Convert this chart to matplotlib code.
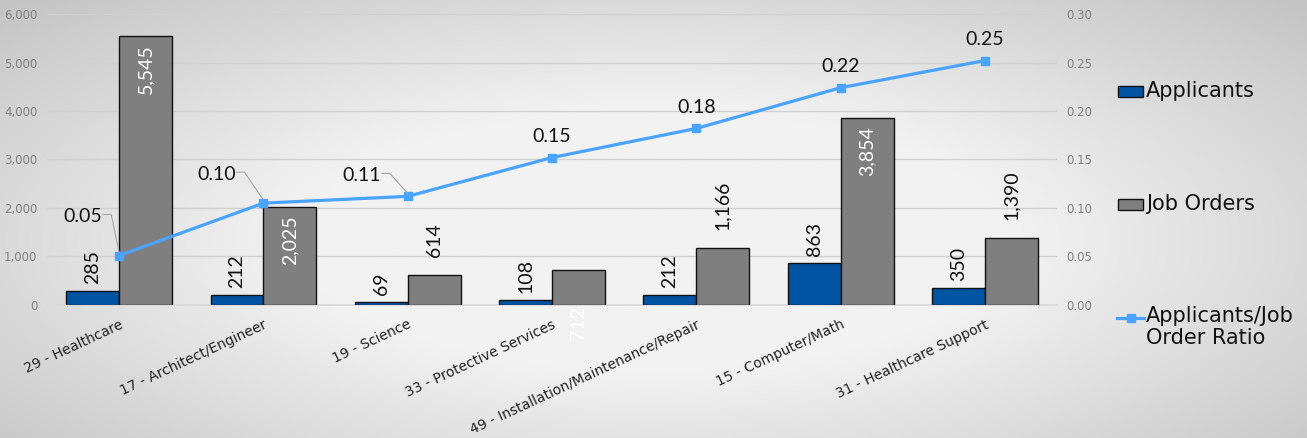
import numpy as np
import matplotlib.pyplot as plt
from matplotlib.patches import Rectangle
from matplotlib.lines import Line2D

categories = ['29 - Healthcare', '17 - Architect/Engineer', '19 - Science',
              '33 - Protective Services', '49 - Installation/Maintenance/Repair',
              '15 - Computer/Math', '31 - Healthcare Support']
applicants = [285, 212, 69, 108, 212, 863, 350]
job_orders = [5545, 2025, 614, 712, 1166, 3854, 1390]
ratio = [0.051, 0.105, 0.112, 0.152, 0.182, 0.224, 0.252]
ratio_labels = ['0.05', '0.10', '0.11', '0.15', '0.18', '0.22', '0.25']

BLUE = '#0254a3'
GREY = '#7f7f7f'
LINE = '#4aa3ff'
LABEL_FONT = ['Lato', 'DejaVu Sans']

plt.rcParams['font.family'] = ['DejaVu Sans']

W, H = 1307, 438
fig = plt.figure(figsize=(W / 100, H / 100), dpi=100)


def fx(px):
    return px / W


def fy(py):
    return 1 - py / H


# background gradient
bg = fig.add_axes([0, 0, 1, 1], zorder=-10)
gx, gy = np.meshgrid(np.linspace(0, 1, 400), np.linspace(0, 1, 200))
d = np.sqrt(((gx - 0.5) / 0.5) ** 2 + ((gy - 0.45) / 0.55) ** 2)
t = np.clip((d - 0.55) / 0.85, 0, 1)
v = (0xf2 - (0xf2 - 0xc4) * t) / 255.0
bg.imshow(np.dstack([v, v, v]), extent=[0, 1, 0, 1], aspect='auto', origin='lower')
bg.axis('off')

ax = fig.add_axes([0.036, 0.3037, 0.7727, 0.6643])
ax.patch.set_alpha(0)
x = np.arange(len(categories))
w = 0.367
ax.bar(x - w / 2, applicants, w, color=BLUE, edgecolor='#111111', linewidth=1, zorder=3)
ax.bar(x + w / 2, job_orders, w, color=GREY, edgecolor='#111111', linewidth=1, zorder=3)
ax.set_xlim(-0.5, len(categories) - 0.5)
ax.set_ylim(0, 6000)
ax.set_yticks(range(0, 6001, 1000))
ax.set_yticklabels([f'{v:,}' for v in range(0, 6001, 1000)])
ax.grid(axis='y', color='#d0d0d0', linewidth=1, zorder=0)
for s in ['top', 'right', 'left']:
    ax.spines[s].set_visible(False)
ax.spines['bottom'].set_color('#d9d9d9')
ax.spines['bottom'].set_linewidth(1.2)
ax.tick_params(axis='y', length=0, labelsize=8.5, labelcolor='#808080', pad=7)
ax.tick_params(axis='x', length=0, pad=9)
ax.set_xticks(x)
ax.set_xticklabels(categories, rotation=25, ha='right', rotation_mode='anchor',
                   fontsize=10, color='#222222')

# applicant labels
for xi, val in zip(x, applicants):
    ax.annotate(f'{val:,}', (xi - w / 2, val), xytext=(0, 5), textcoords='offset points',
                rotation=90, ha='center', va='bottom', fontsize=14, color='#111111',
                family=LABEL_FONT)

# job order labels
inside = {0, 1, 5}
for i, (xi, val) in enumerate(zip(x, job_orders)):
    if i in inside:
        ax.annotate(f'{val:,}', (xi + w / 2, val), xytext=(0, -6), textcoords='offset points',
                    rotation=90, ha='center', va='top', fontsize=14, color='white',
                    family=LABEL_FONT)
    elif i == 3:
        ax.annotate(f'{val:,}', (xi + w / 2, 0), xytext=(0, -1), textcoords='offset points',
                    rotation=90, ha='center', va='top', fontsize=14, color='white',
                    annotation_clip=False, family=LABEL_FONT)
    else:
        ax.annotate(f'{val:,}', (xi + w / 2, val), xytext=(0, 13), textcoords='offset points',
                    rotation=90, ha='center', va='bottom', fontsize=14, color='#111111',
                    family=LABEL_FONT)

ax2 = ax.twinx()
ax2.set_ylim(0, 0.3)
ax2.set_yticks(np.arange(0, 0.301, 0.05))
ax2.set_yticklabels([f'{v:.2f}' for v in np.arange(0, 0.301, 0.05)])
for s in ax2.spines.values():
    s.set_visible(False)
ax2.tick_params(axis='y', length=0, labelsize=8.5, labelcolor='#808080', pad=7)
ax2.plot(x, ratio, color=LINE, linewidth=2.3, marker='s', markersize=5.5, zorder=5)

# ratio labels (pixel offsets of label centre from the point)
leader = {0: (-36, -39), 1: (-47, -29), 2: (-46, -21)}
to_fig = fig.transFigure.inverted()
for i, (xi, val) in enumerate(zip(x, ratio)):
    if i in leader:
        dx, dy = leader[i]
        px, py = ax2.transData.transform((xi, val))
        tx, ty = px + dx, py - dy
        fig.text(*to_fig.transform((tx, ty)), ratio_labels[i], ha='center', va='center',
                 fontsize=14, color='#111111', family=LABEL_FONT)
        pts = [(tx + 20, ty + 2), (tx + 28, ty + 2), (px, py + 3)]
        pts = to_fig.transform(pts)
        fig.add_artist(Line2D(pts[:, 0], pts[:, 1], color='#a6a6a6', linewidth=0.8,
                              transform=fig.transFigure))
    else:
        ax2.annotate(ratio_labels[i], (xi, val), xytext=(0, 9), textcoords='offset points',
                     ha='center', va='bottom', fontsize=14, color='#111111',
                     family=LABEL_FONT)

# legend
fig.add_artist(Rectangle((fx(1118), fy(97)), fx(25), 11 / H, facecolor=BLUE,
                         edgecolor='#111111', linewidth=1, transform=fig.transFigure))
fig.text(fx(1146), fy(91), 'Applicants', fontsize=15, va='center', ha='left', color='#111111')
fig.add_artist(Rectangle((fx(1118), fy(210)), fx(25), 11 / H, facecolor=GREY,
                         edgecolor='#111111', linewidth=1, transform=fig.transFigure))
fig.text(fx(1146), fy(204), 'Job Orders', fontsize=15, va='center', ha='left', color='#111111')
fig.add_artist(Line2D([fx(1117), fx(1144)], [fy(318), fy(318)], color=LINE, linewidth=2.3,
                      transform=fig.transFigure))
fig.add_artist(Line2D([fx(1130.5)], [fy(318)], color=LINE, marker='s', markersize=5.5,
                      transform=fig.transFigure))
fig.text(fx(1146), fy(306), 'Applicants/Job\nOrder Ratio', fontsize=15, va='top', ha='left',
         color='#111111', linespacing=1.15)

fig.savefig('out.png', dpi=100)
